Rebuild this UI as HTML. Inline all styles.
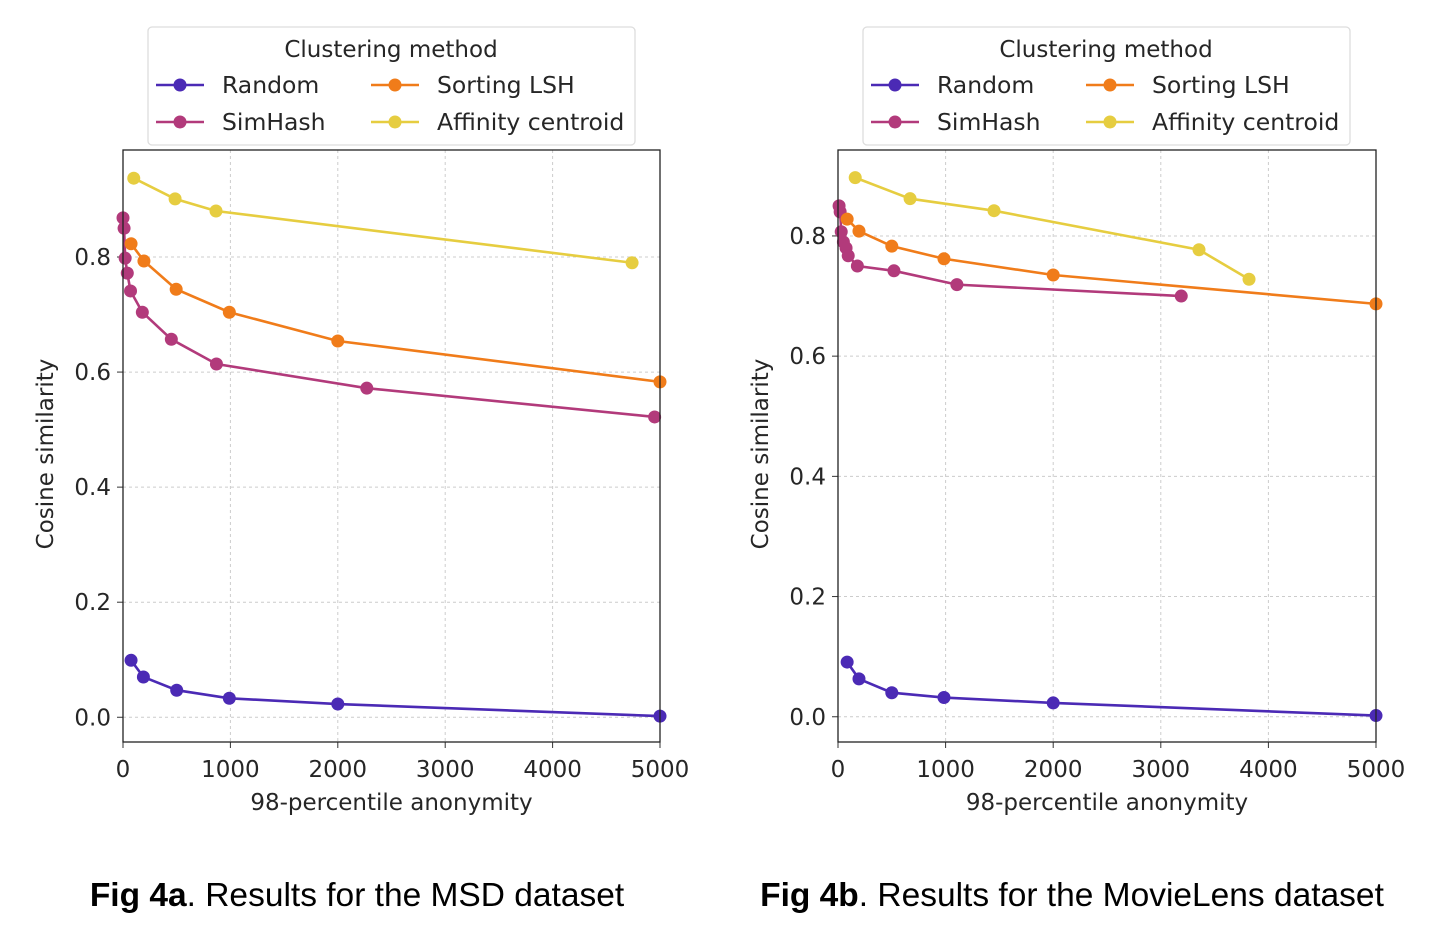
<!DOCTYPE html>
<html><head><meta charset="utf-8"><style>
body{margin:0;background:#fff;width:1438px;height:932px;overflow:hidden}
svg text{font-family:"DejaVu Sans","Liberation Sans",sans-serif;fill:#262626}
</style></head><body>
<svg id="svg" width="1438" height="932">
<text x="357" y="906" font-size="33.5" text-anchor="middle" style="font-family:'Liberation Sans',sans-serif;fill:#000"><tspan font-weight="bold">Fig 4a</tspan>. Results for the MSD dataset</text>
<text x="1072" y="906" font-size="33.5" text-anchor="middle" style="font-family:'Liberation Sans',sans-serif;fill:#000"><tspan font-weight="bold">Fig 4b</tspan>. Results for the MovieLens dataset</text>
</svg>
<script>
const seriesNames=["Random","SimHash","Sorting LSH","Affinity centroid"];
const xTicks=[0,1000,2000,3000,4000,5000];
const yTicks=[0,0.2,0.4,0.6,0.8];
// MSD
const aRandomX=[75,190,500,990,2000,5000];
const aRandomY=[0.099,0.070,0.047,0.033,0.023,0.002];
const aSimX=[0,10,20,40,70,180,450,870,2270,4950];
const aSimY=[0.868,0.850,0.798,0.772,0.741,0.704,0.657,0.614,0.572,0.522];
const aSortX=[75,195,495,990,2000,5000];
const aSortY=[0.823,0.793,0.744,0.704,0.654,0.583];
const aAffX=[100,485,866,4740];
const aAffY=[0.937,0.901,0.880,0.790];
// MovieLens
const bRandomX=[85,195,500,985,2000,5000];
const bRandomY=[0.091,0.063,0.040,0.032,0.023,0.002];
const bSimX=[10,20,30,50,75,95,180,520,1105,3190];
const bSimY=[0.850,0.840,0.807,0.790,0.780,0.767,0.750,0.742,0.719,0.700];
const bSortX=[85,195,500,985,2000,5000];
const bSortY=[0.828,0.808,0.783,0.762,0.735,0.687];
const bAffX=[160,670,1450,3355,3820];
const bAffY=[0.897,0.862,0.842,0.777,0.728];
const colors=["#4b2ab5","#b23a7b","#f07c1a","#e6cd40"];
const NS="http://www.w3.org/2000/svg";
const svg=document.getElementById('svg');
function mk(t,a,p){const e=document.createElementNS(NS,t);for(const k in a)e.setAttribute(k,a[k]);(p||svg).appendChild(e);return e;}
function panel(id,L,R,T,B,ymin,ymax,series,legX){
  const g=mk('g',{});
  
  
  const sx=v=>L+(v-0)/5000*(R-L);
  const sy=v=>B-(v-ymin)/(ymax-ymin)*(B-T);
  xTicks.forEach(t=>{
    const l=mk('line',{x1:sx(t),x2:sx(t),y1:T,y2:B,stroke:'#ccc','stroke-dasharray':'3,3','stroke-width':1},g);
    
    
    mk('line',{x1:sx(t),x2:sx(t),y1:B,y2:B+6,stroke:'#333'},g);
    const tx=mk('text',{x:sx(t),y:B+35,'font-size':23,'text-anchor':'middle'},g);tx.textContent=t;
    
    
  });
  yTicks.forEach(t=>{
    const l=mk('line',{x1:L,x2:R,y1:sy(t),y2:sy(t),stroke:'#ccc','stroke-dasharray':'3,3','stroke-width':1},g);
    
    
    mk('line',{x1:L-6,x2:L,y1:sy(t),y2:sy(t),stroke:'#333'},g);
    const tx=mk('text',{x:L-12,y:sy(t)+8,'font-size':23,'text-anchor':'end'},g);tx.textContent=t.toFixed(1);
    
    
  });
  const xl=mk('text',{x:(L+R)/2,y:B+68,'font-size':23,'text-anchor':'middle'},g);xl.textContent='98-percentile anonymity';
  
  
  const yl=mk('text',{x:0,y:0,'font-size':23,'text-anchor':'middle',transform:`translate(${L-70},${(T+B)/2+8}) rotate(-90)`},g);yl.textContent='Cosine similarity';
  
  
  const clip=id+'-clip';
  const cp=mk('clipPath',{id:clip},g);mk('rect',{x:L-8,y:T,width:R-L+16,height:B-T},cp);
  series.forEach((s,i)=>{
    const sg=mk('g',{'clip-path':`url(#${clip})`},g);
    
    
    const pts=s[0].map((x,j)=>sx(x)+','+sy(s[1][j])).join(' ');
    mk('polyline',{points:pts,fill:'none',stroke:colors[i],'stroke-width':2.6},sg);
    s[0].forEach((x,j)=>{const c=mk('circle',{cx:sx(x),cy:sy(s[1][j]),r:6.5,fill:colors[i]},sg);
      
      });
  });
  mk('rect',{x:L,y:T,width:R-L,height:B-T,fill:'none',stroke:'#222','stroke-width':1.3},g);
  const lg=mk('g',{},g);
  
  
  mk('rect',{x:legX,y:27,width:487,height:118,rx:4,fill:'#fff',stroke:'#ddd','stroke-width':1.3},lg);
  const lt=mk('text',{x:legX+243,y:57,'font-size':23,'text-anchor':'middle'},lg);lt.textContent='Clustering method';
  const pos=[[0,0],[0,1],[1,0],[1,1]];
  seriesNames.forEach((n,i)=>{
    const ex=legX+8+pos[i][0]*215, ey=85+pos[i][1]*37;
    const e=mk('g',{},lg);
    
    
    mk('line',{x1:ex,x2:ex+48,y1:ey,y2:ey,stroke:colors[i],'stroke-width':2.6},e);
    mk('circle',{cx:ex+24,cy:ey,r:6.5,fill:colors[i]},e);
    const t=mk('text',{x:ex+66,y:ey+8,'font-size':23.5},e);t.textContent=n;
  });
}
panel('chart-msd',123,660,150,742,-0.043,0.986,[[aRandomX,aRandomY],[aSimX,aSimY],[aSortX,aSortY],[aAffX,aAffY]],148);
panel('chart-movielens',838,1376,150,742,-0.042,0.943,[[bRandomX,bRandomY],[bSimX,bSimY],[bSortX,bSortY],[bAffX,bAffY]],863);
</script>
</body></html>
